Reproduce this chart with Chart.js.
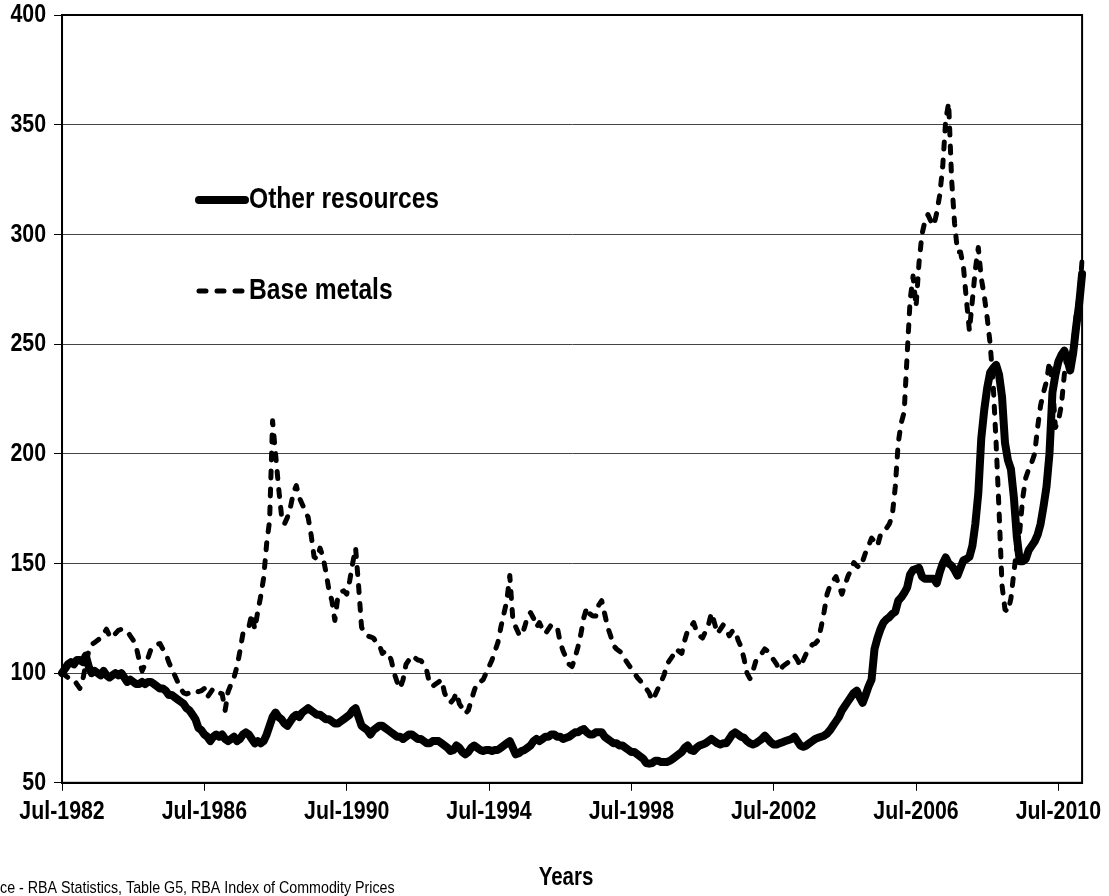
<!DOCTYPE html>
<html>
<head>
<meta charset="utf-8">
<script src="https://cdn.jsdelivr.net/npm/chart.js@4"></script>
<style>
  html, body { margin: 0; padding: 0; background: #fff; }
  #wrap { width: 1109px; height: 896px; }
</style>
</head>
<body>
<div id="wrap"><canvas id="chart" width="1109" height="896"></canvas></div>
<script>
// monthly index values, Jul-1982 .. Mar-2011 (one row = Jul..Jun)
const otherResources = [
  100, 102, 104, 105, 104, 106, 106, 105, 108, 103, 100, 101,
  100, 99, 101, 99, 98, 99, 100, 99, 100, 98, 96, 97,
  96, 95, 95, 96, 95, 96, 96, 95, 94, 93, 93, 92,
  90, 90, 89, 88, 87, 86, 84, 83, 81, 79, 75, 74,
  72, 71, 69, 71, 72, 71, 72, 70, 69, 70, 71, 69,
  70, 72, 73, 72, 70, 68, 69, 68, 69, 72, 76, 80,
  82, 80, 79, 77, 76, 78, 80, 81, 80, 82, 83, 84,
  83, 82, 81, 81, 80, 79, 79, 78, 77, 77, 78, 79,
  80, 81, 83, 84, 80, 76, 75, 74, 72, 74, 75, 76,
  76, 75, 74, 73, 72, 71, 71, 70, 71, 72, 72, 71,
  70, 70, 69, 68, 68, 69, 69, 69, 68, 67, 66, 64.5,
  65, 67, 66, 64, 63, 64, 66, 67, 66, 65, 64.5, 65,
  65, 64.5, 65, 65, 66, 67, 68, 69, 66, 63, 63.5, 64.5,
  65, 66, 67, 69, 70, 69, 70, 71, 71, 72, 72, 71,
  71, 70, 70.5, 71, 72, 73, 73, 74, 74.5, 73, 72, 72,
  73, 73, 73, 71, 70, 69, 68, 68, 67, 67, 66, 65,
  64, 64, 63, 62, 61, 59, 58.7, 59, 60, 60, 59.5, 59.5,
  59.5, 60, 61, 62, 63, 64, 66, 67, 65, 64.5, 66, 67,
  67.5, 68, 69, 70, 69, 68, 67.5, 68, 68, 70, 72, 73,
  72, 71, 70.5, 69, 68, 67.5, 68, 69, 70, 71.5, 70, 68.5,
  67.5, 67.5, 68, 68.5, 69, 69.5, 70, 71, 69, 67, 66.4, 67,
  68, 69, 70, 70.5, 71, 71.5, 72.4, 74, 76, 78, 80, 83,
  85, 87, 89, 91, 92, 89, 86.5, 90, 94, 97, 111, 116,
  120, 123, 124.5, 125.5, 127, 128, 133, 134.5, 136.5, 139, 145, 147,
  147.5, 148, 144, 143, 143, 143, 143, 141, 146, 150, 152.7, 150,
  149, 147, 144.5, 148, 151.5, 152, 153, 158, 168, 182, 207, 220,
  230, 237, 239, 240.5, 236, 226, 205, 197, 193, 180, 162, 151,
  151, 152, 156, 158, 160, 163, 168, 176, 185, 200, 228, 236,
  242, 245, 247, 243, 238, 246, 258, 268, 282
];

const baseMetals = [
  100, 99, 98, 97, 97, 95, 93, 97, 104, 110, 113, 114,
  115, 116, 118, 120, 117, 116, 118, 119.5, 120, 120, 119, 117,
  115, 112, 106, 101, 104, 107, 111, 112, 113, 113.5, 111, 109,
  105, 102, 99, 96, 93, 91, 90.5, 91, 92, 92, 91.5, 92,
  93, 89, 91, 93, 92, 91, 90.5, 83, 91.5, 95, 98, 103,
  110, 118, 119, 121, 127, 120, 128, 135, 143.5, 159, 169.5, 215,
  200, 185, 172, 168, 171, 175.5, 182, 185.5, 180, 177, 174, 171,
  163, 153, 152, 157, 153, 146, 138, 133, 124, 134.5, 137, 137.5,
  136, 142, 150, 157, 140, 121, 118, 117, 116.5, 116, 114, 113,
  109, 110, 109, 106, 100, 96, 93, 97, 104, 106, 108, 107,
  106, 105.7, 104, 101, 95, 94, 95, 96, 97, 91, 88, 86.5,
  88, 91, 86, 84, 81.5, 83, 87.5, 92, 95.6, 96, 97, 100,
  103, 106, 110, 114, 121, 127, 133, 144.5, 125, 121, 118, 117,
  121, 126, 127.6, 125, 121, 123, 120, 118, 120, 122, 121.5, 121,
  114, 110, 107, 104, 103, 107, 112, 118, 125.5, 130, 127, 126,
  126, 131, 133, 127, 121, 117, 112.5, 111, 110, 109, 106, 104,
  102, 100, 98, 96.5, 95, 93, 91, 87.5, 90, 93, 96, 99,
  104, 106, 108, 111, 110, 109, 115, 119.5, 121, 123, 119, 117,
  116, 119, 122, 127.5, 123, 118, 120, 122, 120, 117, 119, 119.5,
  115, 112, 106.5, 100, 97.5, 101, 105.6, 107, 109, 111, 110, 108,
  106, 104, 101, 103, 104, 105, 106, 108, 106, 103, 106, 109,
  111, 113, 113.5, 115, 121, 128, 136, 140, 142, 144, 140, 136,
  140, 144, 147, 150.4, 149, 148, 151, 155, 158, 161.5, 160, 158,
  163, 164, 166, 168, 172, 185, 205, 214, 219, 245, 270, 281,
  267, 287, 300, 306, 309, 306, 304, 310, 318, 331, 352, 360,
  325, 305, 292, 292, 285, 270, 256, 270, 284, 294, 280, 272,
  262, 250, 232, 205, 174, 140, 129, 128, 134, 146, 157, 165,
  180, 189, 193, 196, 200, 212, 222, 228, 233, 242, 232, 212,
  215, 222, 236, 246, 243, 250, 263, 272, 288
];

const tickLabels = ['Jul-1982', 'Jul-1986', 'Jul-1990', 'Jul-1994', 'Jul-1998', 'Jul-2002', 'Jul-2006', 'Jul-2010'];
const yTicks = [50, 100, 150, 200, 250, 300, 350, 400];
const seriesNames = ['Other resources', 'Base metals'];
const axisTitle = 'Years';
const sourceHidden = 'Sour';
const sourceNote = 'ce - RBA Statistics, Table G5, RBA Index of Commodity Prices';

const monthNames = ['Jan', 'Feb', 'Mar', 'Apr', 'May', 'Jun', 'Jul', 'Aug', 'Sep', 'Oct', 'Nov', 'Dec'];
const months = otherResources.map((v, i) => {
    const m = 6 + i;
    return monthNames[m % 12] + '-' + (1982 + Math.floor(m / 12));
});

const FONT = "'Liberation Sans', Arial, sans-serif";
const NARROW = 0.82; // squeeze text to look like Arial Narrow

// draw text squeezed horizontally
function narrowText(ctx, text, x, y, font, align) {
    ctx.save();
    ctx.font = font;
    ctx.textAlign = align;
    ctx.scale(NARROW, 1);
    ctx.fillText(text, x / NARROW, y);
    ctx.restore();
}

// tick labels, legend, axis title, note and frame drawn on top
const extras = {
    id: 'extras',
    afterDraw(chart) {
        const ctx = chart.ctx;
        const a = chart.chartArea;
        const xs = chart.scales.x;
        const ys = chart.scales.y;
        ctx.save();
        ctx.strokeStyle = '#000';
        ctx.lineWidth = 2;
        ctx.strokeRect(a.left, a.top, a.right - a.left, a.bottom - a.top);

        ctx.fillStyle = '#000';
        ctx.textBaseline = 'middle';
        yTicks.forEach(v => {
            narrowText(ctx, String(v), 46, ys.getPixelForValue(v), 'bold 26px ' + FONT, 'right');
        });
        tickLabels.forEach(lbl => {
            const px = xs.getPixelForValue(months.indexOf(lbl));
            narrowText(ctx, lbl, px, a.bottom + 29, 'bold 26px ' + FONT, 'center');
        });

        // legend
        ctx.lineCap = 'round';
        ctx.lineWidth = 8;
        ctx.beginPath();
        ctx.moveTo(199, 200);
        ctx.lineTo(245, 200);
        ctx.stroke();
        ctx.lineWidth = 5;
        ctx.setLineDash([7, 11]);
        ctx.beginPath();
        ctx.moveTo(199, 291);
        ctx.lineTo(247, 291);
        ctx.stroke();
        ctx.setLineDash([]);
        narrowText(ctx, seriesNames[0], 249, 200, 'bold 30px ' + FONT, 'left');
        narrowText(ctx, seriesNames[1], 249, 291, 'bold 30px ' + FONT, 'left');

        // axis title
        narrowText(ctx, axisTitle, 566, 878, 'bold 25px ' + FONT, 'center');

        // source note, its first letters run off the page
        ctx.font = '13px ' + FONT;
        const size = 13 * 394 / (ctx.measureText(sourceNote).width * NARROW);
        const f = size.toFixed(1) + 'px ' + FONT;
        ctx.font = f;
        const hw = ctx.measureText(sourceHidden).width * NARROW;
        ctx.textBaseline = 'alphabetic';
        narrowText(ctx, sourceHidden + sourceNote, -hw, 893, f, 'left');
        ctx.restore();
    }
};

new Chart(document.getElementById('chart').getContext('2d'), {
    type: 'line',
    data: {
        labels: months,
        datasets: [
            {
                label: seriesNames[0],
                data: otherResources,
                borderColor: '#000',
                borderWidth: 8,
                borderJoinStyle: 'round',
                borderCapStyle: 'round',
                pointRadius: 0,
                tension: 0,
                fill: false
            },
            {
                label: seriesNames[1],
                data: baseMetals,
                borderColor: '#000',
                borderWidth: 5,
                borderDash: [7, 11],
                borderJoinStyle: 'round',
                borderCapStyle: 'round',
                pointRadius: 0,
                tension: 0,
                fill: false
            }
        ]
    },
    options: {
        responsive: false,
        animation: false,
        devicePixelRatio: 1,
        layout: { padding: { left: 3, right: 26, top: 15, bottom: 64 } },
        plugins: {
            legend: { display: false },
            tooltip: { enabled: false }
        },
        scales: {
            x: {
                type: 'category',
                offset: false,
                grid: { display: true, drawOnChartArea: false, color: '#000', lineWidth: 1, tickLength: 8 },
                border: { display: true, color: '#000', width: 2 },
                ticks: {
                    autoSkip: false,
                    maxRotation: 0,
                    padding: 8,
                    color: 'rgba(0,0,0,0)',
                    font: { family: FONT, size: 21, weight: 'bold' },
                    callback: function (value) {
                        const lbl = this.getLabelForValue(value);
                        return tickLabels.includes(lbl) ? lbl : null;
                    }
                }
            },
            y: {
                min: 50,
                max: 400,
                grid: { color: '#444', lineWidth: 1, tickLength: 8, tickColor: '#000' },
                border: { display: true, color: '#000', width: 2 },
                ticks: {
                    stepSize: 50,
                    padding: 8,
                    color: 'rgba(0,0,0,0)',
                    font: { family: FONT, size: 21, weight: 'bold', lineHeight: 0.4 }
                }
            }
        }
    },
    plugins: [extras]
});
</script>
</body>
</html>
